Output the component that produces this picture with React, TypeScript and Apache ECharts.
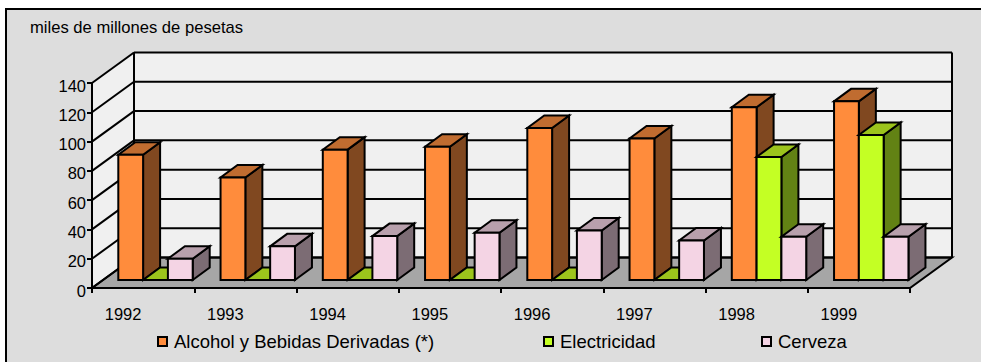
import React, { useEffect, useRef } from "react";
import * as echarts from "echarts";

const categories = ["1992", "1993", "1994", "1995", "1996", "1997", "1998", "1999"];
const alcohol = [85.5, 70, 89, 91, 103.8, 96.6, 118, 122];
const electricidad = [0, 0, 0, 0, 0, 0, 84, 99];
const cerveza = [14.5, 23, 30, 32.3, 33.8, 27, 29.5, 29.5];
const yTicks = [0, 20, 40, 60, 80, 100, 120, 140];
const unitLabel = "miles de millones de pesetas";

const FONT = "'Liberation Sans', Arial, sans-serif";
const DEPTH_X = 42;
const DEPTH_Y = 30.5;
const BAR_W = 24.8;
const BAR_LEFT = 26.3;
const BAR_DX = 17;
const BAR_DY = 12.5;
const BASE_LIFT = 8;

const line = (x1: number, y1: number, x2: number, y2: number) => ({
  type: "line",
  shape: { x1, y1, x2, y2 },
  style: { stroke: "#000", lineWidth: 2 },
});
const poly = (points: number[][], fill: string) => ({
  type: "polygon",
  shape: { points },
  style: { fill, stroke: "#000", lineWidth: 2, lineJoin: "miter" },
});

const wallsRender = (_p: any, api: any) => {
  const [xl, y0] = api.coord([0, 0]);
  const w = api.size([1, 0])[0];
  const left = xl - w / 2;
  const right = left + w * categories.length;
  const yTop = api.coord([0, 140])[1];
  const bl = left + DEPTH_X;
  const br = right + DEPTH_X;
  const children: any[] = [
    { type: "polygon", shape: { points: [[left, y0], [bl, y0 - DEPTH_Y], [bl, yTop - DEPTH_Y], [left, yTop]] }, style: { fill: "#f0f0f0" } },
    { type: "rect", shape: { x: bl, y: yTop - DEPTH_Y, width: br - bl, height: y0 - yTop }, style: { fill: "#f0f0f0" } },
    poly([[left, y0], [right, y0], [br, y0 - DEPTH_Y], [bl, y0 - DEPTH_Y]], "#a6a6a6"),
  ];
  yTicks.forEach((t) => {
    const y = api.coord([0, t])[1];
    children.push(line(left, y, bl, y - DEPTH_Y));
    children.push(line(bl, y - DEPTH_Y, br, y - DEPTH_Y));
  });
  children.push(line(bl, yTop - DEPTH_Y, bl, y0 - DEPTH_Y));
  children.push(line(br, yTop - DEPTH_Y, br, y0 - DEPTH_Y));
  return { type: "group", children };
};

const barRender = (slot: number, front: string, top: string, side: string) => (_p: any, api: any) => {
  const idx = api.value(0);
  const [cx, yv] = api.coord([idx, api.value(1)]);
  const y0 = api.coord([idx, 0])[1] - BASE_LIFT;
  const w = api.size([1, 0])[0];
  const x = cx - w / 2 + BAR_LEFT + slot * BAR_W;
  const yT = yv - BASE_LIFT;
  return {
    type: "group",
    children: [
      poly([[x + BAR_W, y0], [x + BAR_W + BAR_DX, y0 - BAR_DY], [x + BAR_W + BAR_DX, yT - BAR_DY], [x + BAR_W, yT]], side),
      poly([[x, yT], [x + BAR_W, yT], [x + BAR_W + BAR_DX, yT - BAR_DY], [x + BAR_DX, yT - BAR_DY]], top),
      poly([[x, y0], [x + BAR_W, y0], [x + BAR_W, yT], [x, yT]], front),
    ],
  };
};

const toData = (vals: number[]) => vals.map((v, i) => [i, v]);

const legendBase = {
  orient: "horizontal" as const,
  icon: "rect",
  itemWidth: 9,
  itemHeight: 9,
  itemGap: 0,
  selectedMode: false,
  padding: 0,
  itemStyle: { borderColor: "#000", borderWidth: 2 },
  textStyle: { fontFamily: FONT, fontSize: 18.5, color: "#000", padding: [3, 0, 0, 2] },
};

export default function App() {
  const ref = useRef<HTMLDivElement>(null);
  useEffect(() => {
    const chart = echarts.init(ref.current!, null, { renderer: "svg" });
    chart.setOption({
      animation: false,
      backgroundColor: "transparent",
      title: {
        text: unitLabel,
        left: 30,
        top: 19,
        padding: 0,
        textStyle: { fontFamily: FONT, fontSize: 16.6, fontWeight: "normal", color: "#000" },
      },
      legend: [
        { ...legendBase, left: 157, top: 332, data: ["Alcohol y Bebidas Derivadas (*)"] },
        { ...legendBase, left: 543, top: 332, data: ["Electricidad"] },
        { ...legendBase, left: 761, top: 332, data: ["Cerveza"] },
      ],
      grid: { left: 92, right: 71, top: 83, bottom: 74 },
      xAxis: {
        type: "category",
        data: categories,
        z: 10,
        axisLine: { lineStyle: { color: "#000", width: 2 } },
        axisTick: { show: true, alignWithLabel: false, length: 5, lineStyle: { color: "#000", width: 2 } },
        axisLabel: { interval: 0, margin: 17, fontFamily: FONT, fontSize: 16.5, color: "#000", padding: [0, 40, 0, 0] },
        splitLine: { show: false },
      },
      yAxis: {
        type: "value",
        min: 0,
        max: 140,
        interval: 20,
        z: 10,
        axisLine: { show: true, lineStyle: { color: "#000", width: 2 } },
        axisTick: { show: true, length: 5, lineStyle: { color: "#000", width: 2 } },
        axisLabel: { margin: 6, fontFamily: FONT, fontSize: 16.5, color: "#000", verticalAlign: "top", lineHeight: 5 },
        splitLine: { show: false },
      },
      series: [
        { type: "custom", name: "walls", clip: false, silent: true, renderItem: wallsRender, data: [[0, 0]], z: 1 },
        { type: "custom", name: "Alcohol y Bebidas Derivadas (*)", clip: false, itemStyle: { color: "#ff8c3c" }, renderItem: barRender(0, "#ff8c3c", "#c06c30", "#804820"), data: toData(alcohol), z: 2 },
        { type: "custom", name: "Electricidad", clip: false, itemStyle: { color: "#c4ff24" }, renderItem: barRender(1, "#c4ff24", "#9cc41c", "#628214"), data: toData(electricidad), z: 3 },
        { type: "custom", name: "Cerveza", clip: false, itemStyle: { color: "#f4d4e4" }, renderItem: barRender(2, "#f4d4e4", "#b8a0ac", "#7c6c74"), data: toData(cerveza), z: 4 },
      ],
    });
    return () => chart.dispose();
  }, []);
  return (
    <div style={{ position: "absolute", left: 0, top: 0, width: 981, height: 362, background: "#fff", overflow: "hidden" }}>
      <div style={{ position: "absolute", left: 5, top: 8, width: 1000, height: 400, background: "#dddddd", border: "2px solid #000" }} />
      <div ref={ref} style={{ position: "absolute", left: 0, top: 0, width: 981, height: 362 }} />
    </div>
  );
}
